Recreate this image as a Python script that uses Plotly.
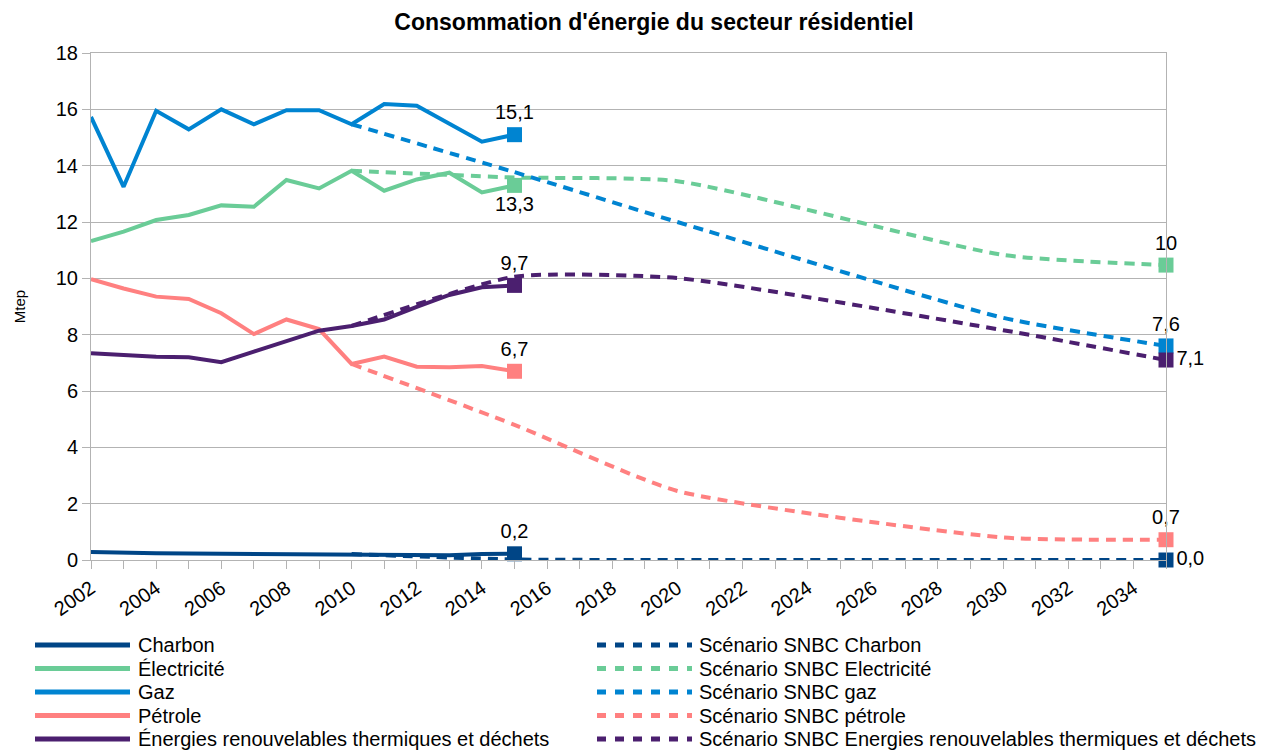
import plotly.graph_objects as go

# ---------------- data ----------------
years = list(range(2002, 2016))
charbon = [0.28, 0.25, 0.24, 0.23, 0.22, 0.22, 0.22, 0.22, 0.21, 0.2, 0.18, 0.17, 0.21, 0.22]
electricite = [11.32, 11.66, 12.07, 12.25, 12.59, 12.54, 13.49, 13.19, 13.82, 13.11, 13.51, 13.75, 13.05, 13.3]
gaz = [15.73, 13.25, 15.95, 15.29, 16.0, 15.47, 15.97, 15.97, 15.47, 16.19, 16.13, 15.5, 14.85, 15.1]
petrole = [9.97, 9.64, 9.35, 9.27, 8.76, 8.02, 8.54, 8.2, 6.96, 7.22, 6.86, 6.84, 6.89, 6.7]
enr = [7.34, 7.28, 7.22, 7.2, 7.02, 7.4, 7.78, 8.14, 8.31, 8.54, 8.99, 9.41, 9.68, 9.75]

scen_years = [2010, 2015, 2020, 2030, 2035]
scen_charbon = [0.21, 0.02, 0.0, 0.0, 0.0]
scen_elec = [13.82, 13.58, 13.45, 10.83, 10.47]
scen_gaz = [15.47, 13.77, 12.0, 8.6, 7.6]
scen_petrole = [6.96, 4.8, 2.45, 0.8, 0.72]
scen_enr = [8.31, 10.06, 10.01, 8.16, 7.1]

names = ["Charbon", "Électricité", "Gaz", "Pétrole", "Énergies renouvelables thermiques et déchets"]
scen_names = ["Scénario SNBC Charbon", "Scénario SNBC Electricité", "Scénario SNBC gaz",
              "Scénario SNBC pétrole", "Scénario SNBC Energies renouvelables thermiques et déchets"]
colors = ["#004586", "#6acc97", "#0084d1", "#ff8080", "#4b1f6f"]

last_labels = ["0,2", "13,3", "15,1", "6,7", "9,7"]
last_pos = ["top center", "bottom center", "top center", "top center", "top center"]
scen_labels = ["0,0", "10", "7,6", "0,7", "7,1"]
scen_pos = ["middle right", "top center", "top center", "top center", "middle right"]

actual = [charbon, electricite, gaz, petrole, enr]
scen = [scen_charbon, scen_elec, scen_gaz, scen_petrole, scen_enr]

FONT = "Liberation Sans, Arial, sans-serif"
FS = 20
DASH = "10px,7px"

fig = go.Figure()

for i in range(5):
    fig.add_trace(go.Scatter(x=scen_years, y=scen[i], mode="lines",
                             line=dict(color=colors[i], width=4, dash=DASH, shape="spline", smoothing=0.55),
                             name=scen_names[i], showlegend=False, hoverinfo="skip"))
for i in range(5):
    fig.add_trace(go.Scatter(x=years, y=actual[i], mode="lines",
                             line=dict(color=colors[i], width=4),
                             name=names[i], showlegend=False))
for i in range(5):
    fig.add_trace(go.Scatter(x=[years[-1]], y=[actual[i][-1]], mode="markers+text",
                             marker=dict(symbol="square", size=15, color=colors[i]),
                             text=[last_labels[i]], textposition=last_pos[i],
                             textfont=dict(family=FONT, size=FS, color="#000"),
                             cliponaxis=False, showlegend=False, hoverinfo="skip"))
    fig.add_trace(go.Scatter(x=[scen_years[-1]], y=[scen[i][-1]], mode="markers+text",
                             marker=dict(symbol="square", size=15, color=colors[i]),
                             text=[scen_labels[i]], textposition=scen_pos[i],
                             textfont=dict(family=FONT, size=FS, color="#000"),
                             cliponaxis=False, showlegend=False, hoverinfo="skip"))

# ---------------- layout ----------------
W, H = 1269, 753
L, R, T, B = 91, 103, 53, 193
pw, ph = W - L - R, H - T - B


def px2paper(px, py):
    return (px - L) / pw, (H - B - py) / ph


shapes = []
annotations = []
legend_rows = [645, 668.5, 692, 715.5, 739]
for i in range(5):
    y = legend_rows[i]
    x0, yy = px2paper(35, y)
    x1, _ = px2paper(130, y)
    shapes.append(dict(type="line", xref="paper", yref="paper", x0=x0, x1=x1, y0=yy, y1=yy,
                       line=dict(color=colors[i], width=5)))
    tx, _ = px2paper(136, y)
    annotations.append(dict(xref="paper", yref="paper", x=tx, y=yy, text=names[i], showarrow=False,
                            xanchor="left", yanchor="middle", font=dict(family=FONT, size=FS, color="#000")))
    x0, _ = px2paper(597, y)
    x1, _ = px2paper(692, y)
    shapes.append(dict(type="line", xref="paper", yref="paper", x0=x0, x1=x1, y0=yy, y1=yy,
                       line=dict(color=colors[i], width=5, dash="9px,9px")))
    tx, _ = px2paper(697, y)
    annotations.append(dict(xref="paper", yref="paper", x=tx, y=yy, text=scen_names[i], showarrow=False,
                            xanchor="left", yanchor="middle", font=dict(family=FONT, size=FS, color="#000")))

fig.update_layout(
    width=W, height=H,
    margin=dict(l=L, r=R, t=T, b=B),
    paper_bgcolor="white", plot_bgcolor="white",
    font=dict(family=FONT, size=FS, color="#000"),
    title=dict(text="<b>Consommation d'énergie du secteur résidentiel</b>", x=654 / W, xanchor="center",
               y=1 - 22 / H, yanchor="middle", font=dict(family=FONT, size=23, color="#000")),
    shapes=shapes, annotations=annotations,
    showlegend=False,
)
fig.update_xaxes(range=[2002, 2035], tick0=2002, dtick=2, tickangle=-35,
                 ticks="outside", ticklen=8, tickcolor="#b3b3b3",
                 minor=dict(dtick=1, ticks="outside", ticklen=8, tickcolor="#b3b3b3", showgrid=False),
                 showgrid=False, zeroline=False, showline=True, linecolor="#b3b3b3", linewidth=1, mirror=True,
                 tickfont=dict(family=FONT, size=FS, color="#000"))
fig.update_yaxes(range=[0, 18], dtick=2, ticks="outside", ticklen=8, tickcolor="#b3b3b3",
                 showgrid=True, gridcolor="#b3b3b3", gridwidth=1, zeroline=False,
                 showline=True, linecolor="#b3b3b3", linewidth=1, mirror=True,
                 tickfont=dict(family=FONT, size=FS, color="#000"),
                 title=dict(text="Mtep", font=dict(family=FONT, size=15, color="#000"), standoff=26))

fig.write_html("out.html", config={"displayModeBar": False},
               post_script="document.body.style.margin='0';document.body.style.overflow='hidden';")
